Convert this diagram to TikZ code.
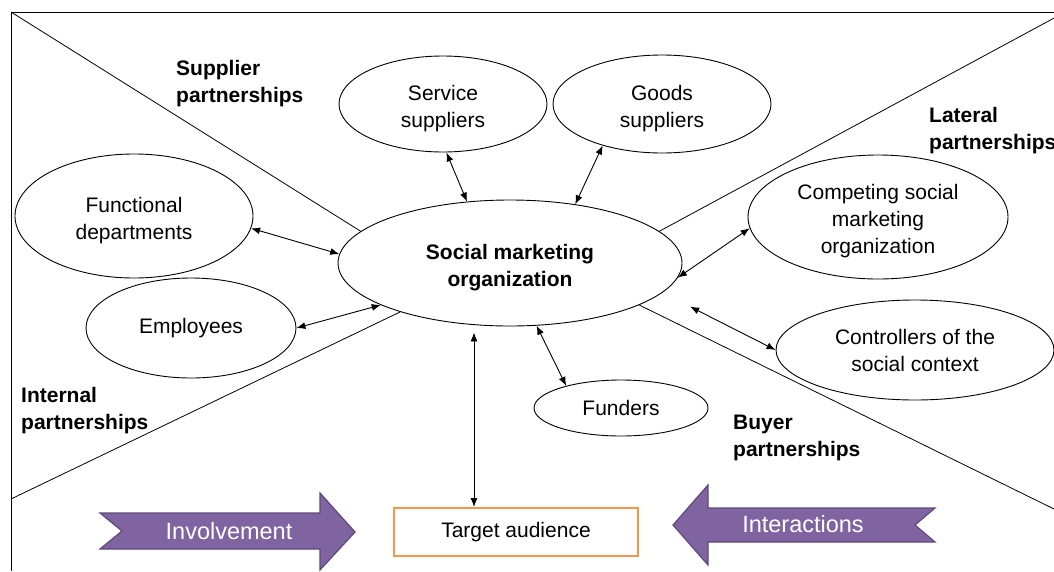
\documentclass[tikz,border=0pt]{standalone}
\usepackage{fontspec}
\setmainfont{Liberation Sans}
\usetikzlibrary{arrows.meta,shapes.geometric}
\definecolor{audorange}{HTML}{F79646}
\definecolor{flowpurple}{HTML}{8064A2}
\definecolor{flowedge}{HTML}{5F497A}
\newcommand{\tallrow}{\rule{0pt}{23.5pt}}

\begin{document}
\begin{tikzpicture}[x=1pt,y=-1pt]
   \tikzstyle{party} = [draw, ellipse, inner sep=0pt, line width=0.9pt, align=center, font=\fontsize{21}{27}\selectfont]
   \tikzstyle{zone} = [inner sep=0pt, anchor=north west, align=left, font=\bfseries\fontsize{21}{27}\selectfont]
   \tikzstyle{line} = [draw, line width=0.9pt, {Latex[length=9pt,width=7pt]}-{Latex[length=9pt,width=7pt]}]
   \tikzstyle{flow} = [fill=flowpurple, draw=flowedge, line width=1.2pt]
   \useasboundingbox (0,0) rectangle (1054,571);

   \node[party, minimum width=344pt, minimum height=126pt, font=\bfseries\fontsize{21}{27}\selectfont] (smo) at (510,263) {\tallrow Social marketing\\organization};
   \node[party, minimum width=208pt, minimum height=96pt] (serv) at (443,104) {\tallrow Service\\suppliers};
   \node[party, minimum width=218pt, minimum height=98pt] (goods) at (662,104) {\tallrow Goods\\suppliers};
   \node[party, minimum width=238pt, minimum height=124pt] (func) at (134,216) {\tallrow Functional\\departments};
   \node[party, minimum width=210pt, minimum height=100pt] (emp) at (191,328) {Employees};
   \node[party, minimum width=260pt, minimum height=124pt] (comp) at (878,217) {\tallrow Competing social\\marketing\\organization};
   \node[party, minimum width=278pt, minimum height=100pt] (ctrl) at (915,350) {Controllers of the\\social context};
   \node[party, minimum width=174pt, minimum height=56pt] (fund) at (621,408) {Funders};
   \node[draw=audorange, line width=2pt, minimum width=244pt, minimum height=48pt, font=\fontsize{21}{25}\selectfont] (aud) at (516,532) {Target audience};

   \node[zone] (supl) at (176,60) {Supplier\\partnerships};
   \node[zone] (latl) at (929,107) {Lateral\\partnerships};
   \node[zone] (intl) at (21,387) {Internal\\partnerships};
   \node[zone] (buyl) at (733,415) {Buyer\\partnerships};

   % frame and sector lines
   \coordinate (nw) at (11,12);
   \coordinate (sw) at (11,499);
   \coordinate (ne) at (1056,17);
   \coordinate (se) at (1056,510);
   \draw[line width=1pt] (1054,12) -- (nw) -- (11,571);
   \draw[line width=0.8pt] (nw) -- (smo.168);
   \draw[line width=0.8pt] (sw) -- (smo.204);
   \draw[line width=0.8pt] (smo.12) -- (ne);
   \draw[line width=0.8pt] (smo.342) -- (se);

   \path[line] (func.-6) -- (smo.177);
   \path[line] (emp.0) -- (smo.198);
   \path[line] (serv.274) -- (smo.125);
   \path[line] (goods.215) -- (smo.42);
   \path[line] (comp.185) -- (smo.355);
   \path[line, shorten >=31pt] (ctrl.180) -- (smo.349);
   \path[line] (fund.158) -- (smo.293);
   \path[line, shorten >=6pt] ([xshift=-42pt]aud.north) -- ([xshift=-42pt]aud.north |- smo.south);

   % big arrows
   \draw[flow] (100,513) -- (320,513) -- (320,493) -- (355,532) -- (320,570) -- (320,549) -- (100,549) -- (122,531) -- cycle;
   \node[text=white, font=\fontsize{23.5}{28}\selectfont] (inv) at (229,531) {Involvement};
   \draw[flow] (673,525) -- (708,485) -- (708,508) -- (935,508) -- (915,525) -- (935,542) -- (708,542) -- (708,565) -- cycle;
   \node[text=white, font=\fontsize{23.5}{28}\selectfont] (inter) at (803,524) {Interactions};
 \end{tikzpicture}
\end{document}
